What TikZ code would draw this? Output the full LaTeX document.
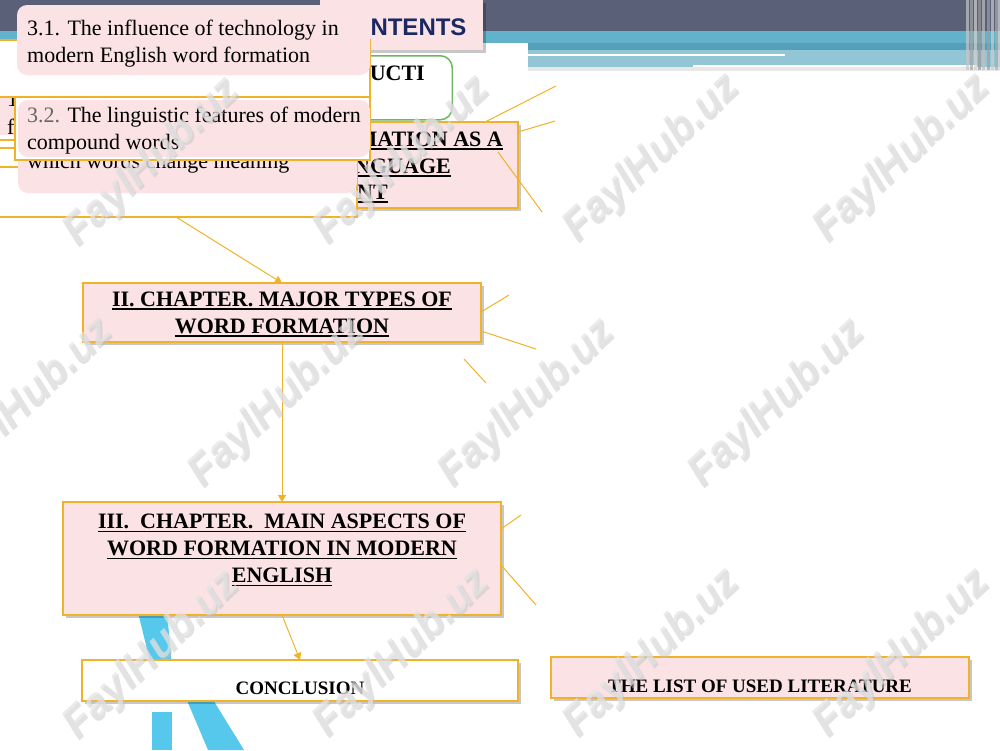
\documentclass[tikz,border=0pt]{standalone}
\usepackage{fontspec}
\setmainfont{Liberation Serif}
\newfontfamily\hdfont{Liberation Sans}
\usetikzlibrary{arrows.meta,shadows,calc}
\definecolor{orng}{RGB}{240,178,40}
\definecolor{pinkf}{RGB}{250,226,229}
\definecolor{grn}{RGB}{110,182,100}
\definecolor{navy}{RGB}{28,40,100}
\definecolor{darkband}{RGB}{90,96,120}
\definecolor{teal1}{RGB}{98,178,204}
\definecolor{teal2}{RGB}{84,160,186}
\definecolor{lightband}{RGB}{146,198,214}
\definecolor{cyanlogo}{RGB}{86,200,236}
\newcommand\uln[1]{\setbox0\hbox{#1}\rlap{\rule[-3.5pt]{\wd0}{1.4pt}}\box0}
\newcommand\wmark[3]{%
  \node[wmsh,rotate=43] (#1s) at (#2+2,#3+2) {FaylHub.uz};
  \node[wmk,rotate=43] (#1) at (#2,#3) {FaylHub.uz};}
\tikzset{
  shd/.style={drop shadow={shadow xshift=3pt,shadow yshift=-3pt,fill=black,opacity=0.22}},
  pinkbox/.style={draw=orng,line width=1.2pt,fill=pinkf,inner sep=0pt,outer sep=0pt,shd},
  whitebox/.style={draw=orng,line width=1.2pt,fill=white,inner sep=0pt,outer sep=0pt},
  rbox/.style={fill=pinkf,rounded corners=10pt,inner sep=0pt,outer sep=0pt},
  conn/.style={draw=orng,line width=1pt},
  arr/.style={conn,-{Triangle[width=8pt,length=7pt]}},
  big/.style={font=\fontsize{22}{27}\selectfont,inner sep=0pt},
  chap/.style={font=\fontsize{22}{27}\selectfont\bfseries,align=center},
  wmk/.style={font=\hdfont\bfseries\itshape\fontsize{42}{42}\selectfont,text=gray!22,opacity=0.7},
  wmsh/.style={font=\hdfont\bfseries\itshape\fontsize{42}{42}\selectfont,text=gray!50,opacity=0.45},
}
\begin{document}
\begin{tikzpicture}[x=1pt,y=-1pt]
\useasboundingbox (0,0) rectangle (1000,750);
\clip (0,0) rectangle (1000,750);
% top bands
\fill[darkband] (0,0) rectangle (1000,33);
\fill[teal1] (0,31) rectangle (1000,43);
\fill[teal2] (528,43) rectangle (1000,50);
\fill[lightband] (528,50) rectangle (1000,67);
\fill[gray!18] (528,67) rectangle (1000,71);
\draw[white,line width=2.5pt] (528,55) -- (785,55);
\draw[white,line width=2.5pt] (693,66) -- (977,66);
\foreach \xx/\cc in {966/gray!45,970/gray!70,974/gray!35,978/gray!80,982/gray!50,987/gray!75,991/gray!40,995/gray!65,998/gray!30}
  \fill[\cc,opacity=0.7] (\xx,0) rectangle (\xx+2.5,70);
% header
\node[fill=pinkf,minimum width=163pt,minimum height=50pt,anchor=north west,inner sep=0pt,shd] (hdr) at (320,0) {};
\node[font=\hdfont\bfseries\fontsize{24}{24}\selectfont,text=navy] (hdrt) at (400.5,27) {CONTENTS};
% logo shapes
\fill[cyanlogo] (135,600) -- (166,600) -- (174,690) -- (157,690) -- cycle;
\fill[cyanlogo] (186,698) -- (212,698) -- (244,750) -- (208,750) -- cycle;
\fill[cyanlogo] (152,712) rectangle (172,750);
% green box
\node[draw=grn,line width=1.5pt,fill=white,rounded corners=12pt,minimum width=200pt,minimum height=64pt,anchor=north east,inner sep=0pt] (intro) at (453,55) {};
\node[font=\fontsize{22}{27}\selectfont\bfseries,anchor=base east,inner sep=0pt] (introt) at (425,80) {INTRODUCTI};
% chapter I box (partly hidden)
\node[pinkbox,minimum width=218pt,minimum height=86pt,anchor=north east] (mation) at (518,122) {};
\node[font=\fontsize{22}{27}\selectfont\bfseries,anchor=base east,inner sep=0pt] (m1) at (503,146) {\uln{FORMATION AS A}};
\node[font=\fontsize{22}{27}\selectfont\bfseries,anchor=base east,inner sep=0pt] (m2) at (451,173) {\uln{LANGUAGE}};
\node[font=\fontsize{22}{27}\selectfont\bfseries,anchor=base east,inner sep=0pt] (m3) at (388,199) {\uln{MENT}};
% left stack
\node[whitebox,minimum width=362pt,minimum height=50pt,anchor=north west] (boxG) at (-5,140) {};
\node[whitebox,minimum width=362pt,minimum height=52pt,anchor=north west] (boxF) at (-5,148) {};
\node[whitebox,minimum width=362pt,minimum height=50pt,anchor=north west] (boxE) at (-5,167) {};
\node[rbox,minimum width=339pt,minimum height=68pt,anchor=north west] (boxD) at (18,125) {};
\node[big,anchor=base west] (dtxt) at (27,168) {which words change meaning};
\node[rbox,minimum width=370pt,minimum height=50pt,anchor=north west] (boxB) at (-10,85) {};
\node[big,anchor=base west] (b1) at (7,106) {1.3.};
\node[big,anchor=base west] (b2) at (7,134) {f};
\node[whitebox,minimum width=355pt,minimum height=63pt,anchor=north west] (boxC) at (15,97) {};
\node[rbox,minimum width=352pt,minimum height=57pt,anchor=north west] (box32) at (18,100) {};
\node[big,align=left,anchor=west] (t32) at (27,131) {\textcolor{black!60}{3.2.} The linguistic features of modern\\compound words};
\node[whitebox,minimum width=375pt,minimum height=57pt,anchor=north west] (boxA) at (-5,40) {};
\node[rbox,minimum width=353pt,minimum height=70pt,anchor=north west] (box31) at (17,5) {};
\node[big,align=left,anchor=west] (t31) at (27,43.5) {3.1. The influence of technology in\\modern English word formation};
% chapter II
\node[pinkbox,minimum width=398pt,minimum height=59pt,anchor=north west] (c2) at (83,283) {};
\node[chap] (c2t) at (282,314) {\uln{II. CHAPTER. MAJOR TYPES OF}\\\uln{WORD FORMATION}};
% chapter III
\node[pinkbox,minimum width=438pt,minimum height=113pt,anchor=north west] (c3) at (63,502) {};
\node[chap] (c3t) at (282,550) {\uln{III.\ \ CHAPTER.\ \ MAIN ASPECTS OF}\\\uln{WORD FORMATION IN MODERN}\\\uln{ENGLISH}};
% conclusion and literature
\node[whitebox,shd,minimum width=436pt,minimum height=41pt,anchor=north west] (concl) at (82,660) {};
\node[font=\fontsize{19}{22}\selectfont\bfseries] (conclt) at (300,688) {CONCLUSION};
\node[pinkbox,minimum width=418pt,minimum height=41pt,anchor=north west] (lit) at (551,657) {};
\node[font=\fontsize{19}{22}\selectfont\bfseries] (litt) at (760,686) {THE LIST OF USED LITERATURE};
% connectors
\draw[arr] (boxE.south) -- (c2.north);
\draw[arr] (c2.south) -- (c3.north);
\draw[arr] (c3.south) -- (concl.north);
\coordinate (s1) at (556,86);
\coordinate (s2) at (555,121);
\coordinate (s3a) at (498,152);
\coordinate (s3) at (542,212);
\coordinate (s4) at (509,295);
\coordinate (s5) at (536,349);
\coordinate (s6a) at (464,359);
\coordinate (s6) at (486,383);
\coordinate (s7) at (521,515);
\coordinate (s8) at (536,605);
\draw[conn] ([xshift=-33pt]mation.north east) -- (s1);
\draw[conn] ([yshift=-10pt]mation.north east) -- (s2);
\draw[conn] (s3a) -- (s3);
\draw[conn] ([yshift=-29pt]c2.north east) -- (s4);
\draw[conn] ([yshift=-48pt]c2.north east) -- (s5);
\draw[conn] (s6a) -- (s6);
\draw[conn] ([yshift=-27pt]c3.north east) -- (s7);
\draw[conn] ([yshift=-63pt]c3.north east) -- (s8);
% watermarks
\wmark{w1}{152}{162}
\wmark{w2}{402}{160}
\wmark{w3}{652}{158}
\wmark{w4}{902}{158}
\wmark{w5}{25}{402}
\wmark{w6}{277}{403}
\wmark{w7}{527}{403}
\wmark{w8}{777}{403}
\wmark{w9}{152}{655}
\wmark{w10}{402}{653}
\wmark{w11}{652}{653}
\wmark{w12}{902}{653}
\end{tikzpicture}
\end{document}
